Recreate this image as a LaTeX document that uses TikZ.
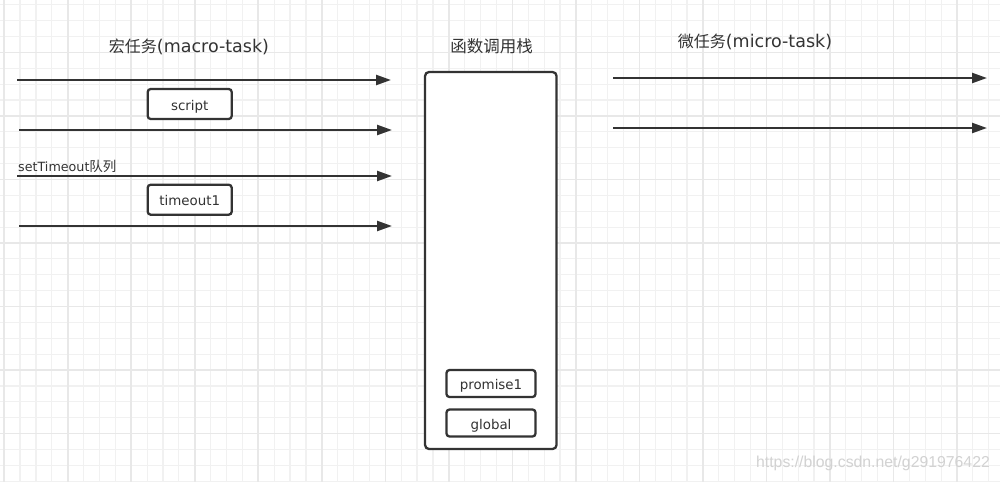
\documentclass[tikz,border=0pt]{standalone}
\usepackage{fontspec}
\setmainfont{DejaVu Sans}
\newfontfamily\cjk{Noto Sans CJK SC}
\newfontfamily\wmfont{Liberation Sans}
\usetikzlibrary{arrows.meta}
\definecolor{ink}{HTML}{333333}
\definecolor{gridminor}{HTML}{F1F1F1}
\definecolor{gridmajor}{HTML}{E8E8E8}
\definecolor{wmark}{HTML}{D2D2D2}
\begin{document}
\begin{tikzpicture}[x=1pt,y=-1pt,
  gminor/.style={draw=gridminor,line width=1.2pt},
  gmajor/.style={draw=gridmajor,line width=1.6pt},
  arr/.style={draw=ink,line width=2.3pt,-{Triangle[length=15pt,width=10pt]}},
  taskbox/.style={draw=ink,fill=white,line width=2.3pt,rounded corners=3pt,minimum width=84pt,minimum height=30pt,inner sep=0pt,text height=13pt,text depth=1pt,text=ink,font=\fontsize{13.4}{16}\selectfont},
  stackitem/.style={taskbox,minimum width=89pt,minimum height=27pt},
  stackbox/.style={draw=ink,fill=white,line width=2.3pt,rounded corners=4pt,minimum width=131.5pt,minimum height=377pt,inner sep=0pt},
  title/.style={text=ink,inner sep=0pt,font=\fontsize{17.5}{20}\selectfont},
  cjktitle/.style={text=ink,inner sep=0pt,font=\cjk\fontsize{16.5}{20}\selectfont},
]
\useasboundingbox (0,0) rectangle (1000,482);
\fill[white] (0,0) rectangle (1000,482);
% grid
\foreach \k in {0,...,62} \draw[gminor] ({4.2+15.88*\k},0) -- ({4.2+15.88*\k},482);
\foreach \k in {0,...,30} \draw[gminor] (0,{4.8+15.88*\k}) -- (1000,{4.8+15.88*\k});
\foreach \k in {0,4,...,60} \draw[gmajor] ({4.2+15.88*\k},0) -- ({4.2+15.88*\k},482);
\foreach \k in {3,7,...,27} \draw[gmajor] (0,{4.8+15.88*\k}) -- (1000,{4.8+15.88*\k});

% titles
\node[title] (macroT) at (189,46.5) {{\cjk\fontsize{16}{20}\selectfont 宏任务}(macro-task)};
\node[cjktitle] (stackT) at (491.5,46.3) {函数调用栈};
\node[title] (microT) at (755,42) {{\cjk\fontsize{16}{20}\selectfont 微任务}(micro-task)};

% macro-task queue arrows
\coordinate (a1s) at (17,80);  \coordinate (a1e) at (391,80);
\coordinate (a2s) at (19,130); \coordinate (a2e) at (392,130);
\coordinate (a3s) at (17,176); \coordinate (a3e) at (392,176);
\coordinate (a4s) at (19,226); \coordinate (a4e) at (392,226);
\draw[arr] (a1s) -- (a1e);
\draw[arr] (a2s) -- (a2e);
\draw[arr] (a3s) -- (a3e);
\draw[arr] (a4s) -- (a4e);

\node[taskbox] (script) at (189.7,104) {script};
\node[taskbox] (timeout) at (189.7,199.7) {timeout1};
\node[anchor=base west,inner sep=0pt,text=ink,font=\fontsize{12.7}{15}\selectfont] (stlabel) at (18,171) {setTimeout{\cjk\fontsize{13.5}{15}\selectfont 队列}};

% call stack
\node[stackbox] (stack) at (490.8,260.5) {};
\node[stackitem] (promise) at (491,383.5) {promise1};
\node[stackitem] (global) at (491,423) {global};

% micro-task queue arrows
\coordinate (b1s) at (613,78);  \coordinate (b1e) at (987,78);
\coordinate (b2s) at (613,128); \coordinate (b2e) at (987,128);
\draw[arr] (b1s) -- (b1e);
\draw[arr] (b2s) -- (b2e);

% watermark
\node[text=wmark,inner sep=0pt,font=\wmfont\fontsize{15.8}{18}\selectfont] (wm) at (873,463) {https://blog.csdn.net/g291976422};
\end{tikzpicture}
\end{document}
